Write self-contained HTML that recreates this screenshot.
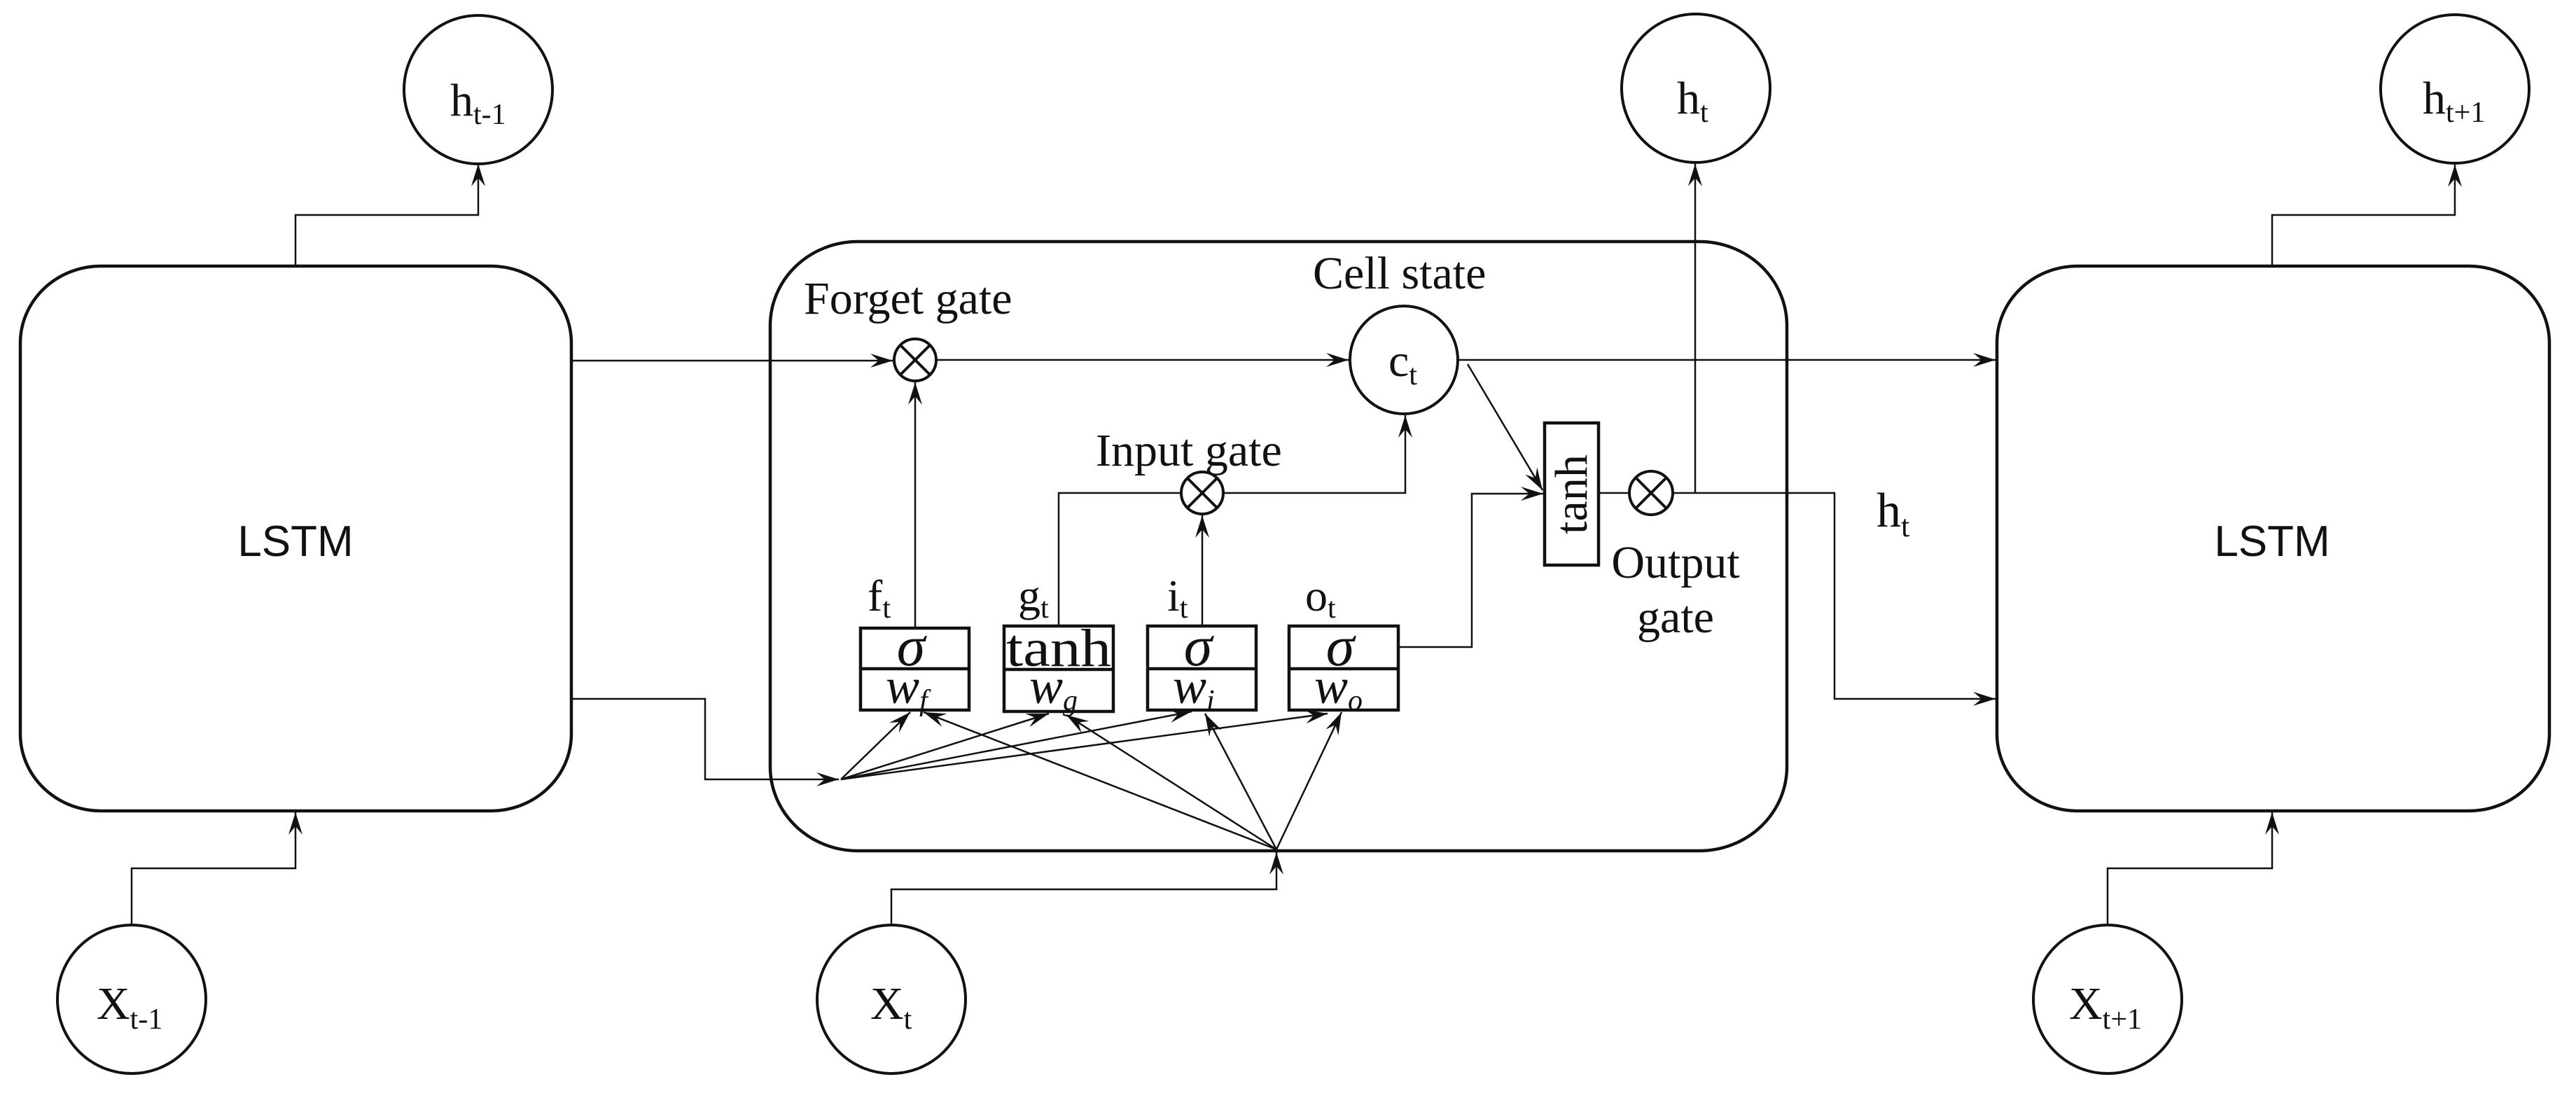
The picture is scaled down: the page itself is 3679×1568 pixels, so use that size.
<!DOCTYPE html>
<html><head><meta charset="utf-8"><style>
html,body{margin:0;padding:0;background:#fff;}
svg{display:block;}
.s{font-family:"Liberation Serif",serif;fill:#111;}
.l{font-family:"Liberation Sans",sans-serif;fill:#111;}
</style></head><body>
<svg width="3679" height="1568" viewBox="0 0 3679 1568" xmlns="http://www.w3.org/2000/svg">
<defs>
<marker id="a" viewBox="-34 -12 36 24" refX="0" refY="0" markerWidth="36" markerHeight="24" markerUnits="userSpaceOnUse" orient="auto">
<path d="M0,0 L-32,-10 L-20,0 L-32,10 Z" fill="#111"/>
</marker>
</defs>
<g fill="none" stroke="#111">
<rect x="29" y="380" width="787" height="778" rx="115" ry="110" stroke-width="4.5"/>
<rect x="1100" y="345" width="1452" height="870" rx="125" ry="120" stroke-width="4.5"/>
<rect x="2852" y="380" width="789" height="778" rx="115" ry="110" stroke-width="4.5"/>
<circle cx="683" cy="128" r="106" stroke-width="4"/>
<circle cx="188" cy="1427" r="106" stroke-width="4"/>
<circle cx="1273" cy="1427" r="106" stroke-width="4"/>
<circle cx="2422" cy="126" r="106" stroke-width="4"/>
<circle cx="3506" cy="127" r="106" stroke-width="4"/>
<circle cx="3010" cy="1427" r="106" stroke-width="4"/>
<circle cx="2005" cy="514" r="77" stroke-width="4"/>
<g stroke-width="4">
<circle cx="1307" cy="514" r="30"/><path d="M1286,493 L1328,535 M1328,493 L1286,535"/>
<circle cx="1717" cy="704" r="30"/><path d="M1696,683 L1738,725 M1738,683 L1696,725"/>
<circle cx="2358" cy="704" r="31"/><path d="M2336,682 L2380,726 M2380,682 L2336,726"/>
</g>
<g stroke-width="4.5">
<rect x="1229" y="897" width="155" height="117"/><path d="M1229,955 H1384"/>
<rect x="1434" y="894" width="156" height="122"/><path d="M1434,956 H1590"/>
<rect x="1639" y="894" width="155" height="120"/><path d="M1639,955 H1794"/>
<rect x="1841" y="894" width="156" height="120"/><path d="M1841,955 H1997"/>
<rect x="2206" y="604" width="77" height="203"/>
</g>
<g stroke-width="2.5">
<path d="M422,380 V307 H683 V234" marker-end="url(#a)"/>
<path d="M188,1321 V1240 H422 V1160" marker-end="url(#a)"/>
<path d="M3245,380 V307 H3506 V235" marker-end="url(#a)"/>
<path d="M3010,1321 V1240 H3245 V1160" marker-end="url(#a)"/>
<path d="M816,515 H1275" marker-end="url(#a)"/>
<path d="M1337,514 H1926" marker-end="url(#a)"/>
<path d="M1307,897 V546" marker-end="url(#a)"/>
<path d="M1512,894 V704 H1687"/>
<path d="M1717,894 V736" marker-end="url(#a)"/>
<path d="M1747,704 H2007 V593" marker-end="url(#a)"/>
<path d="M1997,924 H2102 V705 H2204" marker-end="url(#a)"/>
<path d="M2096,520 L2203,700" marker-end="url(#a)"/>
<path d="M2083,514 H2850" marker-end="url(#a)"/>
<path d="M2283,704 H2327"/>
<path d="M2389,704 H2620 V998 H2850" marker-end="url(#a)"/>
<path d="M2421,704 V234" marker-end="url(#a)"/>
<path d="M816,998 H1007 V1113 H1198" marker-end="url(#a)"/>
<path d="M1273,1321 V1270 H1823 V1217" marker-end="url(#a)"/>
<path d="M1201,1113 L1300,1017" marker-end="url(#a)"/>
<path d="M1201,1113 L1498,1019" marker-end="url(#a)"/>
<path d="M1201,1113 L1702,1016" marker-end="url(#a)"/>
<path d="M1201,1113 L1896,1019" marker-end="url(#a)"/>
<path d="M1823,1213 L1319,1017" marker-end="url(#a)"/>
<path d="M1823,1213 L1523,1021" marker-end="url(#a)"/>
<path d="M1823,1213 L1721,1019" marker-end="url(#a)"/>
<path d="M1823,1213 L1916,1017" marker-end="url(#a)"/>
</g>
</g>
<text class="l" x="422" y="794" font-size="62" text-anchor="middle">LSTM</text>
<text class="l" x="3245" y="794" font-size="62" text-anchor="middle">LSTM</text>
<text class="s" x="643" y="165" font-size="66">h<tspan font-size="42" dy="12">t-1</tspan></text>
<text class="s" x="2395" y="162" font-size="66">h<tspan font-size="42" dy="12">t</tspan></text>
<text class="s" x="3460" y="162" font-size="66">h<tspan font-size="42" dy="12">t+1</tspan></text>
<text class="s" x="138" y="1455" font-size="66">X<tspan font-size="42" dy="14">t-1</tspan></text>
<text class="s" x="1243" y="1455" font-size="66">X<tspan font-size="42" dy="14">t</tspan></text>
<text class="s" x="2955" y="1455" font-size="66">X<tspan font-size="42" dy="14">t+1</tspan></text>
<text class="s" x="1983" y="537" font-size="66">c<tspan font-size="42" dy="12">t</tspan></text>
<text class="s" x="2680" y="752" font-size="70">h<tspan font-size="44" dy="14">t</tspan></text>
<text class="s" x="1148" y="448" font-size="66">Forget gate</text>
<text class="s" x="1875" y="412" font-size="66">Cell state</text>
<text class="s" x="1565" y="665" font-size="66">Input gate</text>
<text class="s" x="2393" y="825" font-size="66" text-anchor="middle">Output</text>
<text class="s" x="2393" y="903" font-size="66" text-anchor="middle">gate</text>
<text class="s" x="1239" y="872" font-size="64">f<tspan font-size="42" dy="10">t</tspan></text>
<text class="s" x="1454" y="872" font-size="64">g<tspan font-size="42" dy="10">t</tspan></text>
<text class="s" x="1667" y="872" font-size="64">i<tspan font-size="42" dy="10">t</tspan></text>
<text class="s" x="1864" y="872" font-size="64">o<tspan font-size="42" dy="10">t</tspan></text>
<g class="s" font-style="italic" font-size="82" text-anchor="middle">
<text x="1301" y="950">σ</text>
<text x="1711" y="950">σ</text>
<text x="1914" y="950">σ</text>
</g>
<text class="s" x="1512" y="951" font-size="76" text-anchor="middle" textLength="150" lengthAdjust="spacingAndGlyphs">tanh</text>
<g class="s" font-style="italic" font-size="72">
<text x="1265" y="1004">w<tspan font-size="42" dy="10">f</tspan></text>
<text x="1470" y="1004">w<tspan font-size="42" dy="10">g</tspan></text>
<text x="1675" y="1004">w<tspan font-size="42" dy="10">i</tspan></text>
<text x="1877" y="1004">w<tspan font-size="42" dy="10">o</tspan></text>
</g>
<text class="s" transform="translate(2266,706) rotate(-90)" font-size="66" text-anchor="middle">tanh</text>
</svg>
</body></html>
